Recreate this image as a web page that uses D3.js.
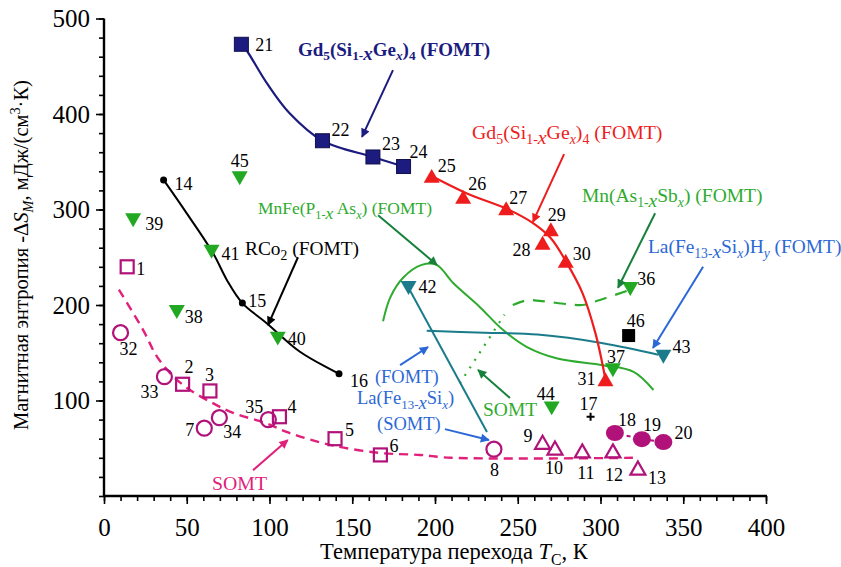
<!DOCTYPE html>
<html><head><meta charset="utf-8">
<script src="https://cdn.jsdelivr.net/npm/d3@7"></script>
<style>
body{margin:0;background:#fff}
svg{display:block}
</style>
</head><body>
<svg id="c" width="841" height="567"></svg>
<script>
// ---------- data ----------
const xTicks = [0,50,100,150,200,250,300,350,400];
const yTicks = [0,100,200,300,400,500];
const xTitle = "Температура перехода ";
const yTitle = "Магнитная энтропия -Δ";

const gdSquares = [{id:"21",T:83,S:473},{id:"22",T:132,S:372},{id:"23",T:162.5,S:355},{id:"24",T:181,S:345}];
const gdSquaresFit = [[83,473],[86,467],[98.5,432],[112,401],[132,372],[162.5,355],[181,345]];
const rco2 = [{id:"14",T:36,S:331},{id:"15",T:83.6,S:202},{id:"16",T:142,S:128}];
const rco2Fit = [[36,331],[50,296],[66,254],[74.3,226],[83.6,202],[98.3,181],[118.4,151],[142,128]];
const gdTriangles = [{id:"25",T:198,S:335},{id:"26",T:217,S:313},{id:"27",T:243,S:301},{id:"28",T:265,S:265},{id:"29",T:270,S:279},{id:"30",T:279,S:246},{id:"31",T:303,S:122}];
const gdTrianglesFit = [[198,335],[219,317],[243,301],[259,286],[270,270],[279,246],[289,213],[297,170],[303,122]];
const greenTri = [{id:"36",T:318,S:217},{id:"37",T:307.5,S:132},{id:"38",T:44,S:193},{id:"39",T:17.6,S:289},{id:"40",T:105,S:165},{id:"41",T:65,S:256},{id:"44",T:270.5,S:92},{id:"45",T:82,S:333}];
const tealTri = [{id:"42",T:184,S:218},{id:"43",T:338,S:146}];
const tealFitA = [[184,218],[231.4,67]];
const tealFitB = [[195,173],[230,171],[262,169],[301.5,160],[335,148]];
const mnfeFit = [[168.6,183],[173,208],[181,229],[192,242],[201,242],[211,223],[227,198],[241,174],[255.6,156],[274,144],[301.5,137],[320,130],[332,111]];
const somtGreenFit = [[215,118],[242,190]];
const mnAsFit = [[247,200],[255.6,205],[264.6,204],[289,200],[295.5,203],[318,216]];
const blackSq = [{id:"46",T:317,S:168}];
const plusPts = [{id:"17",T:294,S:83}];
const openSquares = [{id:"1",T:14,S:240},{id:"2",T:47.5,S:117},{id:"3",T:64,S:110},{id:"4",T:106,S:83},{id:"5",T:139.6,S:60},{id:"6",T:167,S:43}];
const openCircles = [{id:"32",T:10,S:171},{id:"33",T:36.5,S:125},{id:"7",T:60.6,S:71},{id:"34",T:69.7,S:82},{id:"35",T:99.3,S:80},{id:"8",T:235.6,S:49}];
const openTri = [{id:"9",T:265,S:56},{id:"10",T:272.5,S:50},{id:"11",T:289,S:47},{id:"12",T:307.5,S:47},{id:"13",T:322.6,S:29}];
const filledCircles = [{id:"18",T:308.7,S:66},{id:"19",T:325,S:59.5},{id:"20",T:338,S:56.5}];
const somtFit = [[9,216],[23.6,174],[32,146],[42,125],[52,111],[66,97],[78,87],[98.3,76],[112,66],[138,53],[167,45],[191,43],[210,40],[320,40]];

// ---------- layout ----------
const FONT = "Liberation Serif, DejaVu Serif, Noto Serif, serif";
const svg = d3.select("#c");
const x = d3.scaleLinear().domain([0,400]).range([104,766]);
const y = d3.scaleLinear().domain([0,500]).range([496,18.5]);

const C = {navy:"#1b1b80", black:"#000", red:"#ee1c1c", green:"#22a822", lgreen:"#2eab2e",
  dgreen:"#17803a", teal:"#1a7c8a", blue:"#2b68d6", mag:"#b0127a", pink:"#e0207a"};

const defs = svg.append("defs");
function arrowMarker(id,color){
  defs.append("marker").attr("id",id).attr("viewBox","0 0 10 10").attr("refX",9).attr("refY",5)
    .attr("markerWidth",11).attr("markerHeight",9).attr("markerUnits","userSpaceOnUse").attr("orient","auto")
    .append("path").attr("d","M0,0L10,5L0,10z").attr("fill",color);
}
Object.entries(C).forEach(([k,v])=>arrowMarker("ah-"+k,v));

const gx = svg.append("g").attr("transform","translate(0,496)");
gx.call(d3.axisBottom(x).tickValues(d3.range(0,401,10)).tickSize(5).tickFormat(""));
gx.call(g=>g.selectAll(".domain").remove());
const gx2 = svg.append("g").attr("transform","translate(0,496)");
gx2.call(d3.axisBottom(x).tickValues(xTicks).tickSize(8).tickPadding(14).tickFormat(d3.format("d")));
gx2.attr("font-size",25);
gx2.select(".domain").attr("stroke-width",2.4).attr("d","M104,0H767");

const gy = svg.append("g").attr("transform","translate(104,0)");
gy.call(d3.axisLeft(y).tickValues(d3.range(0,501,20)).tickSize(5).tickFormat(""));
gy.call(g=>g.selectAll(".domain").remove());
const gy2 = svg.append("g").attr("transform","translate(104,0)");
gy2.call(d3.axisLeft(y).tickValues(yTicks.filter(d=>d>0)).tickSize(8).tickPadding(6).tickFormat(d3.format("d")));
gy2.attr("font-size",25);
gy2.select(".domain").attr("stroke-width",2.4).attr("d","M0,18.5V497");
svg.selectAll(".tick line").attr("stroke-width",1.6);

function rich(sel, parts, size){
  parts.forEach(p=>{
    const [s,o] = Array.isArray(p)?p:[p,{}];
    const t = sel.append("tspan").text(s);
    if(o.i) t.attr("font-style","italic");
    if(o.sub){ t.attr("font-size",size*0.7).attr("dy",size*0.25); }
    if(o.sup){ t.attr("font-size",size*0.7).attr("dy",-size*0.4); }
    if(o.back){ t.attr("dy",o.back); }
  });
}

const xt = svg.append("text").attr("x",454).attr("y",559).attr("text-anchor","middle").attr("font-size",22.5);
rich(xt,[xTitle,["T",{i:true}],["C",{sub:true}],[", К",{back:-22.5*0.25}]],22.5);
const yt = svg.append("text").attr("transform","translate(28,255) rotate(-90)").attr("text-anchor","middle").attr("font-size",20.5);
rich(yt,[yTitle,["S",{i:true}],["M",{sub:true,i:true}],[", мДж/(см",{back:-5}],["3",{sup:true}],["·К)",{back:8}]],20.5);

const line = d3.line().x(d=>x(d[0])).y(d=>y(d[1])).curve(d3.curveCatmullRom.alpha(0.5));
const straight = d3.line().x(d=>x(d[0])).y(d=>y(d[1]));
function path(data,color,w,dash,gen){
  const p = svg.append("path").attr("d",(gen||line)(data)).attr("fill","none").attr("stroke",color).attr("stroke-width",w);
  if(dash) p.attr("stroke-dasharray",dash);
  return p;
}

path(somtFit,C.pink,2.4,"9,6");
path(mnfeFit,C.lgreen,2);
path(somtGreenFit,C.lgreen,2.2,"2,7",straight);
path(mnAsFit,C.lgreen,2.2,"12,9");
path(tealFitA,C.teal,2,null,straight);
path(tealFitB,C.teal,2);
path(gdSquaresFit,C.navy,2.2);
path(rco2Fit,C.black,2);
path(gdTrianglesFit,C.red,2.2);
svg.append("path").attr("d",straight(filledCircles.map(d=>[d.T,d.S]))).attr("fill","none").attr("stroke",C.mag).attr("stroke-width",2).attr("stroke-dasharray","4,8");

const tri = w=>`M0,${-w*0.45}L${w/2},${w*0.42}L${-w/2},${w*0.42}Z`;
const dtri = w=>`M0,${w*0.45}L${w/2},${-w*0.42}L${-w/2},${-w*0.42}Z`;
function marks(data, fn){ svg.selectAll(null).data(data).enter().append("g").attr("transform",d=>`translate(${x(d.T)},${y(d.S)})`).each(function(d){fn(d3.select(this),d);}); }

marks(gdSquares,g=>g.append("rect").attr("x",-7).attr("y",-7).attr("width",14).attr("height",14).attr("fill",C.navy).attr("stroke","#10104a").attr("stroke-width",1));
marks(rco2,g=>g.append("circle").attr("r",3.5).attr("fill","#000"));
marks(gdTriangles,g=>g.append("path").attr("d",tri(16)).attr("fill",C.red));
marks(greenTri,g=>g.append("path").attr("d",dtri(16)).attr("fill",C.green));
marks(tealTri,g=>g.append("path").attr("d",dtri(16)).attr("fill",C.teal));
marks(blackSq,g=>g.append("rect").attr("x",-6.5).attr("y",-6.5).attr("width",13).attr("height",13).attr("fill","#000"));
marks(plusPts,g=>g.append("path").attr("d","M-4,0H4M0,-4V4").attr("stroke","#000").attr("stroke-width",2));
marks(openSquares,g=>g.append("rect").attr("x",-6.5).attr("y",-6.5).attr("width",13).attr("height",13).attr("fill","none").attr("stroke",C.mag).attr("stroke-width",2.2));
marks(openCircles,g=>g.append("circle").attr("r",7.5).attr("fill","none").attr("stroke",C.mag).attr("stroke-width",2.2));
marks(openTri,g=>g.append("path").attr("d",tri(15)).attr("fill","none").attr("stroke",C.mag).attr("stroke-width",2.2));
marks(filledCircles,g=>g.append("ellipse").attr("rx",9).attr("ry",8).attr("fill",C.mag));

const labOff = {"21":[14,7],"22":[9,-5],"23":[9,-7],"24":[6,-9],"25":[6,-4],"26":[5,-7],"27":[3,-5],"28":[-30,13],"29":[-3,-9],"30":[7,-1],"31":[-28,6],
 "14":[11,10],"15":[6,4],"16":[11,13],"36":[7,-4],"37":[-6,-7],"38":[8,11],"39":[12,10],"40":[10,7],"41":[10,8],"44":[-15,-8],"45":[-9,-11],
 "42":[10,5],"43":[9,-4],"46":[-2,-9],"17":[-11,-7],"1":[9,8],"2":[2,-11],"3":[-5,-10],"4":[8,-4],"5":[10,-3],"6":[9,-3],
 "32":[-1,22],"33":[-24,21],"7":[-19,8],"34":[4,20],"35":[-23,-7],"8":[-4,27],"9":[-19,-1],"10":[-10,26],"11":[-5,28],"12":[-8,30],"13":[10,16],
 "18":[3,-7],"19":[1,-8],"20":[11,-3]};
const allPts = [].concat(gdSquares,rco2,gdTriangles,greenTri,tealTri,blackSq,plusPts,openSquares,openCircles,openTri,filledCircles);
svg.selectAll(null).data(allPts).enter().append("text")
  .attr("x",d=>x(d.T)+labOff[d.id][0]).attr("y",d=>y(d.S)+labOff[d.id][1])
  .attr("font-size",18).attr("fill","#000").text(d=>d.id);

const arrows = [
 {c:"navy",f:[174.6,446],t:[155.9,376]},
 {c:"black",f:[117.2,250],t:[99.1,179]},
 {c:"dgreen",f:[165.6,294],t:[201.2,242]},
 {c:"red",f:[278,358],t:[259.2,287]},
 {c:"dgreen",f:[333,296],t:[310.6,218]},
 {c:"blue",f:[362,240],t:[331.7,155]},
 {c:"blue",f:[178.9,137],t:[195.8,156]},
 {c:"blue",f:[206,70],t:[232.6,58.6]},
 {c:"dgreen",f:[245.3,102.6],t:[226,132]},
 {c:"pink",f:[90,27],t:[111,58.6]}
];
arrows.forEach(a=>{
  svg.append("line").attr("x1",x(a.f[0])).attr("y1",y(a.f[1])).attr("x2",x(a.t[0])).attr("y2",y(a.t[1]))
    .attr("stroke",C[a.c]).attr("stroke-width",2).attr("marker-end",`url(#ah-${a.c})`);
});

function note(T,Sv,color,parts,size,bold){
  const t = svg.append("text").attr("x",x(T)).attr("y",y(Sv)).attr("fill",color).attr("font-size",size);
  if(bold) t.attr("font-weight","bold");
  rich(t,parts.map(p=>{ if(Array.isArray(p)&&p[1].back) return [p[0],{back:-size*0.25}]; return p; }),size);
  return t;
}
const B = {back:1};
note(117.2,461,C.navy,["Gd",["5",{sub:true}],["(Si",B],["1-",{sub:true}],["x",{i:true}],["Ge",B],["x",{sub:true,i:true}],[")",B],["4",{sub:true}],[" (FOMT)",B]],19,true);
note(85.2,252,C.black,["RCo",["2",{sub:true}],[" (FOMT)",B]],19.4);
note(93,295,C.lgreen,["MnFe(P",["1-",{sub:true}],["x",{i:true}],[" As",B],["x",{sub:true,i:true}],[") (FOMT)",B]],17.5);
note(222.4,374,C.red,["Gd",["5",{sub:true}],["(Si",B],["1-",{sub:true}],["x",{i:true}],["Ge",B],["x",{sub:true,i:true}],[")",B],["4",{sub:true}],[" (FOMT)",B]],19.8);
note(288.8,308,C.lgreen,["Mn(As",["1-",{sub:true}],["x",{i:true}],["Sb",B],["x",{sub:true,i:true}],[") (FOMT)",B]],19.5);
note(328.7,254,C.blue,["La(Fe",["13-",{sub:true}],["x",{i:true}],["Si",B],["x",{sub:true,i:true}],[")H",B],["y",{sub:true,i:true}],[" (FOMT)",B]],19.4);
note(163.7,118.3,C.blue,["(FOMT)"],18.5);
note(152.9,96.3,C.blue,["La(Fe",["13-",{sub:true}],["x",{i:true}],["Si",B],["x",{sub:true,i:true}],[")",B]],18.5);
note(165,69.1,C.blue,["(SOMT)"],18.5);
note(229,84,C.lgreen,["SOMT"],19.5);
note(65.3,6.3,C.pink,["SOMT"],19.8);

svg.selectAll("text").each(function(){ this.setAttribute("font-family", FONT); this.style.fontFamily = FONT; });
svg.selectAll("g").each(function(){ this.setAttribute("font-family", FONT); });
</script>
</body></html>
